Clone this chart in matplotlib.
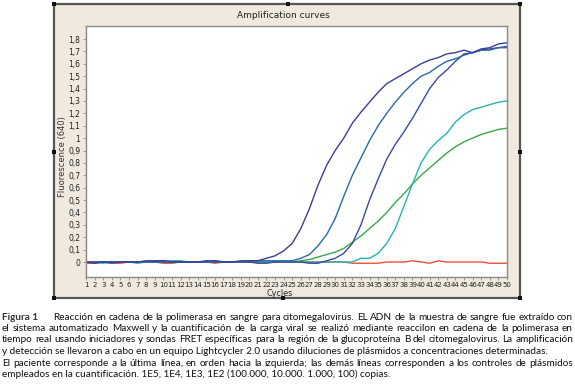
import matplotlib
matplotlib.use("Agg")
import matplotlib.pyplot as plt
from matplotlib.patches import Rectangle
from matplotlib.ticker import FixedLocator, MultipleLocator

# ---------- DATA ----------
cycles = list(range(1, 51))

# 1E5 control
curve_1e5 = [0.00, -0.01, 0.00, 0.00, 0.00, 0.00, 0.00, 0.01, 0.01, 0.01,
             0.00, 0.00, 0.00, 0.00, 0.01, 0.01, 0.00, 0.00, 0.01, 0.01,
             0.01, 0.03, 0.05, 0.09, 0.15, 0.27, 0.43, 0.62, 0.78, 0.90,
             1.00, 1.12, 1.21, 1.29, 1.37, 1.44, 1.48, 1.52, 1.56, 1.60,
             1.63, 1.65, 1.68, 1.69, 1.71, 1.69, 1.72, 1.73, 1.76, 1.77]
# 1E4 control
curve_1e4 = [0.00, 0.00, 0.00, -0.01, 0.00, 0.00, 0.00, 0.00, 0.00, 0.01,
             0.00, 0.00, 0.00, 0.00, 0.00, 0.01, 0.00, 0.00, 0.00, 0.01,
             0.01, 0.01, 0.01, 0.01, 0.01, 0.03, 0.06, 0.13, 0.22, 0.35,
             0.53, 0.70, 0.84, 0.98, 1.10, 1.20, 1.29, 1.37, 1.44, 1.50,
             1.53, 1.58, 1.62, 1.64, 1.67, 1.69, 1.71, 1.71, 1.73, 1.73]
# 1E3 control
curve_1e3 = [0.00, 0.00, 0.00, 0.00, 0.00, 0.00, 0.00, 0.00, 0.00, 0.00,
             0.00, 0.00, 0.00, 0.00, 0.00, 0.00, 0.00, 0.00, 0.00, 0.00,
             -0.01, -0.01, 0.00, 0.00, 0.00, 0.00, -0.01, -0.01, 0.01, 0.03,
             0.07, 0.15, 0.30, 0.50, 0.67, 0.83, 0.95, 1.05, 1.16, 1.28,
             1.40, 1.49, 1.55, 1.62, 1.68, 1.69, 1.71, 1.72, 1.73, 1.74]
# green curve
curve_green = [0.00, 0.00, 0.00, 0.00, 0.00, 0.00, 0.00, 0.00, 0.00, 0.00,
               0.01, 0.00, 0.00, 0.00, 0.00, 0.00, 0.00, 0.00, 0.00, 0.00,
               0.00, 0.00, 0.00, 0.00, 0.00, 0.01, 0.02, 0.04, 0.06, 0.08,
               0.11, 0.16, 0.21, 0.27, 0.33, 0.40, 0.48, 0.55, 0.63, 0.70,
               0.76, 0.82, 0.88, 0.93, 0.97, 1.00, 1.03, 1.05, 1.07, 1.08]
# turquoise curve
curve_teal = [0.00, 0.00, -0.01, 0.00, 0.00, 0.00, -0.01, 0.00, 0.01, 0.00,
              0.01, 0.01, 0.00, 0.00, 0.00, 0.00, 0.00, 0.00, 0.00, 0.01,
              0.01, 0.00, 0.01, 0.00, 0.00, 0.00, 0.00, 0.00, 0.00, 0.00,
              0.00, 0.00, 0.03, 0.03, 0.07, 0.15, 0.27, 0.45, 0.63, 0.80,
              0.91, 0.98, 1.04, 1.13, 1.19, 1.23, 1.25, 1.27, 1.29, 1.30]
# patient (red)
curve_red = [-0.01, -0.01, 0.00, -0.01, -0.01, 0.00, 0.00, 0.00, 0.00, -0.01,
             -0.01, 0.00, 0.00, 0.00, 0.00, -0.01, 0.00, 0.00, 0.00, 0.00,
             0.00, 0.00, 0.00, 0.00, 0.00, 0.00, 0.00, 0.00, 0.00, 0.00,
             0.00, -0.01, -0.01, -0.01, -0.01, 0.00, 0.00, 0.00, 0.01, 0.00,
             -0.01, 0.01, 0.00, 0.00, 0.00, 0.00, 0.00, -0.01, -0.01, -0.01]

y_ticks = [0, 0.1, 0.2, 0.3, 0.4, 0.5, 0.6, 0.7, 0.8, 0.9,
           1.0, 1.1, 1.2, 1.3, 1.4, 1.5, 1.6, 1.7, 1.8]
y_ticklabels = ["0", "0,1", "0,2", "0,3", "0,4", "0,5", "0,6", "0,7", "0,8", "0,9",
                "1", "1,1", "1,2", "1,3", "1,4", "1,5", "1,6", "1,7", "1,8"]

caption_lines = [
    "Reacción en cadena de la polimerasa en sangre para citomegalovirus. EL ADN de la muestra de sangre fue extraído con",
    "el sistema automatizado Maxwell y la cuantificación de la carga viral se realizó mediante reaccilon en cadena de la polimerasa en",
    "tiempo real usando iniciadores y sondas FRET específicas para la región de la glucoproteína B del citomegalovirus. La amplificación",
    "y detección se llevaron a cabo en un equipo Lightcycler 2.0 usando diluciones de plásmidos a concentraciones determinadas.",
    "El paciente corresponde a la última línea, en orden hacia la izquierda; las demás líneas corresponden a los controles de plásmidos",
    "empleados en la cuantificación. 1E5, 1E4, 1E3, 1E2 (100.000, 10.000. 1.000, 100) copias.",
]
justify = [True, True, True, False, True, False]
# ---------------------------

W, H = 575, 385
fig = plt.figure(figsize=(W / 100, H / 100), dpi=100)
fig.patch.set_facecolor("white")

def fx(px):
    return px / W

def fy(py):
    return 1 - py / H

# beige panel around the chart (behind the axes)
panel = Rectangle((fx(54), fy(298)), fx(520) - fx(54), fy(4) - fy(298),
                  transform=fig.transFigure, facecolor="#F0E9DE",
                  edgecolor="#555555", linewidth=1.6, zorder=-5)
fig.patches.append(panel)
for hx, hy in [(54, 4), (288, 4), (520, 4), (54, 152), (520, 152),
               (54, 298), (283, 298), (520, 298)]:
    fig.patches.append(Rectangle((fx(hx) - 0.003, fy(hy) - 0.0045), 0.006, 0.009,
                                 transform=fig.transFigure, facecolor="#111111",
                                 edgecolor="none", zorder=-4))

ax = fig.add_axes([fx(86), fy(277), fx(507) - fx(86), fy(26) - fy(277)])
ax.set_facecolor("white")

lw = 1.0
ax.plot(cycles, curve_red, color="#F05038", lw=lw)
ax.plot(cycles, curve_green, color="#38A848", lw=lw)
ax.plot(cycles, curve_teal, color="#22B6AE", lw=lw)
ax.plot(cycles, curve_1e3, color="#3C48A0", lw=lw)
ax.plot(cycles, curve_1e4, color="#2A6AA6", lw=lw)
ax.plot(cycles, curve_1e5, color="#3A3E98", lw=lw)

ax.set_xlim(1, 50)
ax.set_ylim(-0.121, 1.905)
ax.xaxis.set_major_locator(FixedLocator(cycles))
ax.set_xticklabels([str(c) for c in cycles], fontsize=5, color="#222222")
ax.yaxis.set_major_locator(FixedLocator(y_ticks))
ax.set_yticklabels(y_ticklabels, fontsize=5.5, color="#222222")
ax.yaxis.set_minor_locator(MultipleLocator(0.02))
ax.tick_params(axis="both", which="major", length=2, width=0.5, color="#777777", pad=2)
ax.tick_params(axis="x", which="major", pad=1.5)
ax.tick_params(axis="y", which="minor", length=1, width=0.4, color="#999999")
for s in ax.spines.values():
    s.set_color("#8a8a8a")
    s.set_linewidth(1.0)

fig.text(fx(283), fy(16), "Amplification curves", ha="center", va="center",
         fontsize=6.5, color="#222222")
fig.text(fx(62), fy(157), "Fluorescence (640)", ha="center", va="center",
         rotation=90, fontsize=6, color="#333333")
fig.text(fx(280), fy(293.5), "Cycles", ha="center", va="center",
         fontsize=5.8, color="#222222")

# caption, justified word by word
fig.canvas.draw()
renderer = fig.canvas.get_renderer()
cap_family = ["Lato", "DejaVu Sans"]
cap_color = "#111111"
left, right = 2, 573
line_y = [317, 328.5, 340, 351.5, 363, 374.5]

# pick a size so that the 4th (unjustified) line ends near x=548 like the reference
probe = fig.text(0, 0, caption_lines[3], fontsize=10, family=cap_family)
probe_w = probe.get_window_extent(renderer).width
probe.remove()
cap_size = 10 * (548 - left) / probe_w

fig.text(fx(left), fy(line_y[0]), "Figura 1", ha="left", va="center",
         fontsize=cap_size, fontweight="bold", color="#333333", family=cap_family)

for i, line in enumerate(caption_lines):
    x0 = 53 if i == 0 else left
    if not justify[i]:
        fig.text(fx(x0), fy(line_y[i]), line, ha="left", va="center",
                 fontsize=cap_size, color=cap_color, family=cap_family)
        continue
    words = line.split(" ")
    arts = [fig.text(0, fy(line_y[i]), w, ha="left", va="center",
                     fontsize=cap_size, color=cap_color, family=cap_family)
            for w in words]
    widths = [a.get_window_extent(renderer).width for a in arts]
    gap = max((right - x0 - sum(widths)) / (len(words) - 1), 1.5)
    x = x0
    for a, w in zip(arts, widths):
        a.set_x(fx(x))
        x += w + gap

fig.savefig("out.png", dpi=100)
